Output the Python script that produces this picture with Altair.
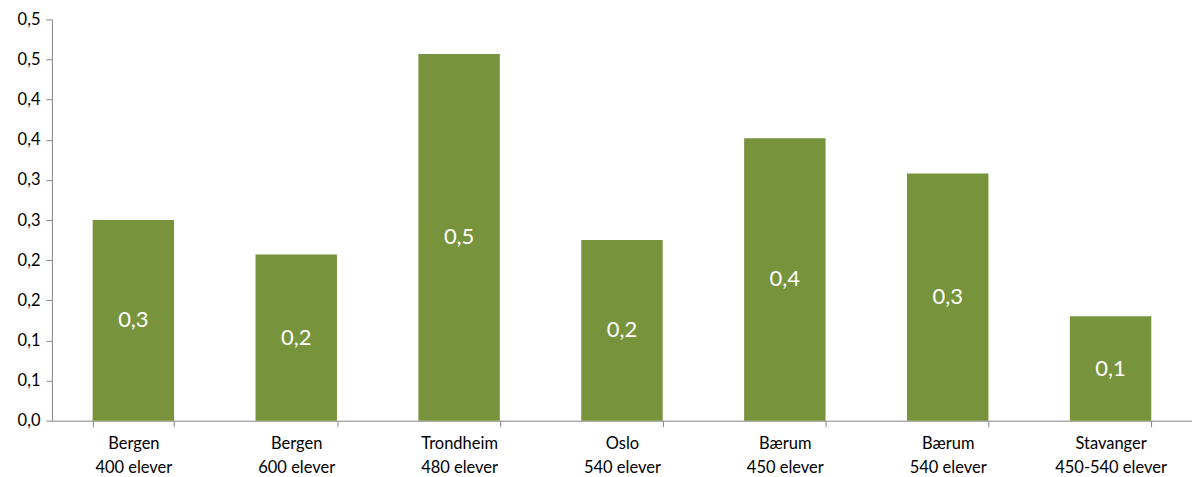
import altair as alt
import pandas as pd

cities = ["Bergen", "Bergen", "Trondheim", "Oslo", "Bærum", "Bærum", "Stavanger"]
pupils = ["400 elever", "600 elever", "480 elever", "540 elever", "450 elever", "540 elever", "450-540 elever"]
values = [0.25, 0.207, 0.457, 0.225, 0.352, 0.308, 0.130]
y_ticks = [0, 0.05, 0.1, 0.15, 0.2, 0.25, 0.3, 0.35, 0.4, 0.45, 0.5]

df = pd.DataFrame({
    "kategori": [f"{c}\n{p}" for c, p in zip(cities, pupils)],
    "verdi": values,
})

FONT = "Lato"
GREEN = "#77933C"
AXIS_GRAY = "#868686"

y_axis = alt.Axis(values=y_ticks,
                  labelExpr="replace(format(round(datum.value*10)/10, '.1f'), '.', ',')",
                  tickSize=6, tickColor=AXIS_GRAY, domainColor=AXIS_GRAY,
                  labelFont=FONT, labelFontSize=16.5, labelColor="#000000",
                  labelPadding=6, grid=False)
y_scale = alt.Scale(domain=[0, 0.5], nice=False)

base = alt.Chart(df).encode(
    x=alt.X("kategori:N", sort=None, title=None,
            scale=alt.Scale(paddingInner=0.5, paddingOuter=0.25),
            axis=alt.Axis(labelExpr="split(datum.label, '\\n')", labelAngle=0,
                          tickBand="extent", tickSize=6, tickColor=AXIS_GRAY,
                          domainColor=AXIS_GRAY, labelFont=FONT, labelFontSize=16.5,
                          labelColor="#000000", labelPadding=9, labelLineHeight=24,
                          grid=False)),
)

bars = base.mark_bar(color=GREEN).encode(
    y=alt.Y("verdi:Q", title=None, scale=y_scale, axis=y_axis),
)

labels = base.transform_calculate(
    mid="datum.verdi / 2",
    txt="replace(format(round(datum.verdi*10)/10, '.1f'), '.', ',')",
).mark_text(color="white", font=FONT, fontSize=22, baseline="middle").encode(
    y=alt.Y("mid:Q", title=None, scale=y_scale, axis=y_axis),
    text="txt:N",
)

chart = (bars + labels).properties(
    width=1142, height=402,
    padding={"left": 44, "top": 11, "right": 0, "bottom": 58},
    autosize=alt.AutoSizeParams(type="none"),
    background="white",
).configure_view(stroke="transparent", strokeWidth=0).configure_axis(grid=False)

chart.save("out.html", embed_options={"renderer": "svg", "actions": False})
